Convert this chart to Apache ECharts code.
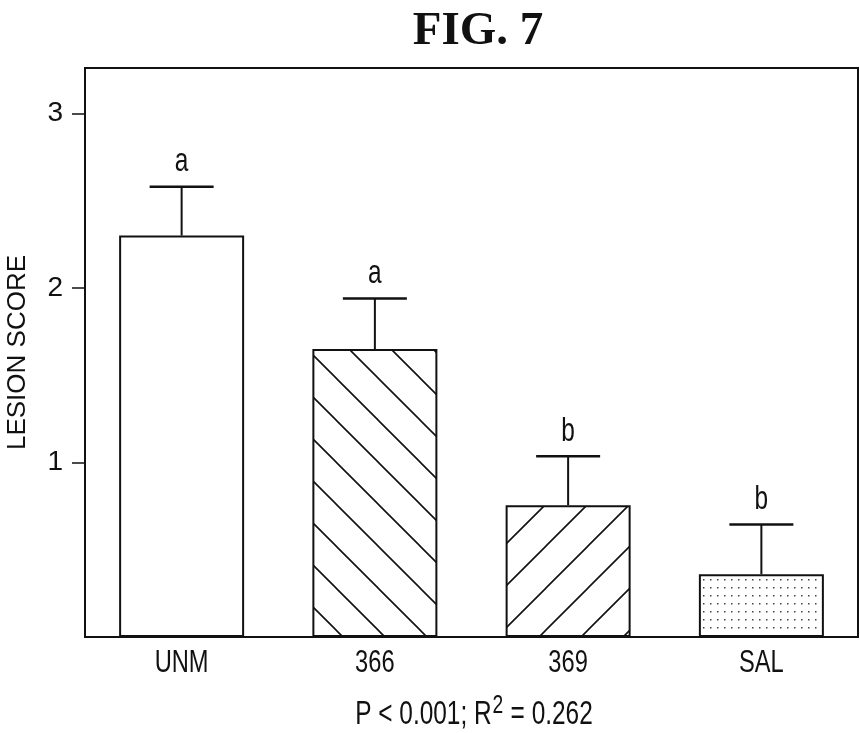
<!DOCTYPE html>
<html>
<head>
<meta charset="utf-8">
<script src="https://cdn.jsdelivr.net/npm/echarts/dist/echarts.min.js"></script>
<style>
html,body{margin:0;padding:0;background:#fff;}
#chart{width:860px;height:733px;}
</style>
</head>
<body>
<div id="chart"></div>
<script>
// ---- data ----
var categories = ['UNM', '366', '369', 'SAL'];
var meanValues = [2.30, 1.65, 0.755, 0.36];
var errorTops = [2.58, 1.94, 1.035, 0.645];
var groupLetters = ['a', 'a', 'b', 'b'];
var yTickValues = [1, 2, 3];
var titleText = 'FIG. 7';
var yAxisTitle = 'LESION SCORE';
var footnoteParts = ['P < 0.001; R', '2', ' = 0.262'];

var SANS = "'Liberation Sans', Arial, sans-serif";
var INK = '#111';
var NARROW_SCALE = 0.74;

function hatch(dir) {
  var s = 42, c = document.createElement('canvas');
  c.width = s; c.height = s;
  var g = c.getContext('2d');
  g.fillStyle = '#fff'; g.fillRect(0, 0, s, s);
  g.strokeStyle = '#111'; g.lineWidth = 1.6;
  g.beginPath();
  if (dir === 'back') {
    g.moveTo(-2, -2); g.lineTo(s + 2, s + 2);
    g.moveTo(-2 - s, -2); g.lineTo(2, s + 2);
    g.moveTo(s - 2, -2); g.lineTo(2 * s + 2, s + 2);
  } else {
    g.moveTo(-2, s + 2); g.lineTo(s + 2, -2);
    g.moveTo(-2 - s, s + 2); g.lineTo(2, -2);
    g.moveTo(s - 2, s + 2); g.lineTo(2 * s + 2, -2);
  }
  g.stroke();
  return c;
}
function dots() {
  var c = document.createElement('canvas');
  c.width = 7; c.height = 8;
  var g = c.getContext('2d');
  g.fillStyle = '#fff'; g.fillRect(0, 0, 7, 8);
  g.fillStyle = '#444'; g.fillRect(3, 3, 1.5, 1.5);
  return c;
}
var fills = [
  '#ffffff',
  { image: hatch('back'), repeat: 'repeat' },
  { image: hatch('fwd'), repeat: 'repeat' },
  { image: dots(), repeat: 'repeat' }
];

var barData = meanValues.map(function (v, i) {
  return { value: v, itemStyle: { color: fills[i] } };
});
var errData = categories.map(function (c, i) {
  return [i, meanValues[i], errorTops[i]];
});
var labelData = categories.map(function (c, i) { return [i, 0]; });

var chart = echarts.init(document.getElementById('chart'), null, { renderer: 'canvas' });
chart.setOption({
  animation: false,
  backgroundColor: '#fff',
  title: {
    text: titleText,
    left: 473, top: 3, textAlign: 'center',
    textStyle: { fontFamily: "'Liberation Serif', 'Times New Roman', serif", fontWeight: 'bold', fontSize: 47, color: INK }
  },
  grid: { left: 85, right: 2, top: 68, bottom: 96, show: true, borderColor: INK, borderWidth: 2, backgroundColor: 'transparent', outerBoundsMode: 'none', containLabel: false },
  xAxis: {
    type: 'category',
    data: categories,
    axisLine: { show: false },
    axisTick: { show: false },
    axisLabel: { show: false }
  },
  yAxis: {
    type: 'value',
    min: 0, max: 3.26, interval: 1,
    name: yAxisTitle,
    nameLocation: 'middle',
    nameGap: 54,
    nameTextStyle: { fontFamily: SANS, fontSize: 26, color: INK },
    splitLine: { show: false },
    axisLine: { show: false },
    axisTick: { show: true, inside: false, length: 13, customValues: yTickValues, lineStyle: { color: INK, width: 1.5 } },
    axisLabel: { margin: 22, customValues: yTickValues, fontFamily: SANS, fontSize: 28, color: INK }
  },
  series: [
    {
      type: 'bar',
      data: barData,
      barWidth: 125,
      itemStyle: { borderColor: INK, borderWidth: 2 },
      z: 2
    },
    {
      type: 'custom',
      data: errData,
      z: 3,
      renderItem: function (params, api) {
        var i = api.value(0);
        var base = api.coord([i, api.value(1)]);
        var top = api.coord([i, api.value(2)]);
        var half = 32;
        return {
          type: 'group',
          children: [
            { type: 'line', shape: { x1: base[0], y1: base[1], x2: top[0], y2: top[1] }, style: { stroke: INK, lineWidth: 2 } },
            { type: 'line', shape: { x1: top[0] - half, y1: top[1], x2: top[0] + half, y2: top[1] }, style: { stroke: INK, lineWidth: 2.5 } },
            { type: 'text', x: top[0], y: top[1] - 8, scaleX: NARROW_SCALE,
              style: { text: groupLetters[params.dataIndex], x: 0, y: 0, align: 'center', verticalAlign: 'bottom', fontFamily: SANS, fontSize: 33, fill: INK } }
          ]
        };
      }
    },
    {
      // category labels under the axis, placed through the axis scale
      type: 'custom',
      data: labelData,
      z: 3,
      clip: false,
      renderItem: function (params, api) {
        var p = api.coord([api.value(0), api.value(1)]);
        return {
          type: 'text', x: p[0], y: p[1] + 10, scaleX: NARROW_SCALE,
          style: { text: categories[params.dataIndex], x: 0, y: 0, align: 'center', verticalAlign: 'top', fontFamily: SANS, fontSize: 32, fill: INK }
        };
      }
    }
  ],
  graphic: [
    {
      type: 'text',
      x: 474, y: 693, scaleX: NARROW_SCALE,
      style: {
        x: 0, y: 0, align: 'center', verticalAlign: 'top',
        text: '{n|' + footnoteParts[0] + '}{s|' + footnoteParts[1] + '}{n|' + footnoteParts[2] + '}',
        rich: {
          n: { fontFamily: SANS, fontSize: 33, fill: INK, color: INK, verticalAlign: 'bottom' },
          s: { fontFamily: SANS, fontSize: 26, fill: INK, color: INK, verticalAlign: 'top', padding: [0, 1, 12, 1] }
        }
      }
    }
  ]
});
</script>
</body>
</html>
